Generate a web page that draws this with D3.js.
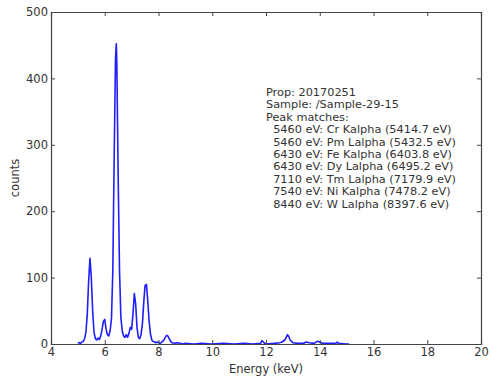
<!DOCTYPE html>
<html>
<head>
<meta charset="utf-8">
<script src="https://cdn.jsdelivr.net/npm/d3@7"></script>
<style>
  body { margin: 0; background: #fff; }
  text { font-family: "DejaVu Sans", sans-serif; fill: #333; }
</style>
</head>
<body>
<div id="chart"></div>
<script>
// spectrum (keV, counts)
var energy = [5.00,5.05,5.10,5.15,5.20,5.25,5.30,5.35,5.40,5.45,5.50,5.55,5.60,5.65,5.70,5.75,5.80,5.85,5.90,5.95,
  6.00,6.05,6.10,6.15,6.20,6.25,6.30,6.35,6.40,6.43,6.45,6.50,6.55,6.60,6.65,6.70,6.75,6.80,6.85,6.90,6.95,
  7.00,7.05,7.10,7.15,7.20,7.25,7.30,7.35,7.40,7.45,7.50,7.55,7.60,7.65,7.70,7.75,7.80,7.85,7.90,7.95,
  8.00,8.05,8.10,8.15,8.20,8.25,8.30,8.35,8.40,8.45,8.50,8.60,8.70,8.80,8.90,9.00,9.30,9.60,10.0,10.4,10.8,11.2,11.5,
  11.8,11.85,11.9,11.95,12.0,12.3,12.5,12.6,12.7,12.8,12.85,12.9,13.0,13.2,13.4,13.5,13.6,13.8,13.9,14.0,14.1,14.4,14.6,14.65,14.7,15.0,15.1];
var counts = [1,2,1,3,4,8,18,45,95,129,100,50,18,8,6,9,7,12,22,34,
  37,22,14,12,20,38,110,280,430,452,420,250,110,40,20,12,10,14,10,16,25,
  22,45,76,60,25,10,8,14,30,62,88,90,65,35,15,6,4,3,2,3,
  2,1,2,4,6,10,13,12,8,4,2,1,2,1,0,1,0,1,0,1,0,1,0,
  1,5,3,1,0,1,2,3,6,14,11,6,2,1,1,3,2,1,4,3,1,1,1,3,1,0,0];

var xTicks = [4,6,8,10,12,14,16,18,20];
var yTicks = [0,100,200,300,400,500];

var infoLines = [
  "Prop: 20170251",
  "Sample: /Sample-29-15",
  "Peak matches:",
  "  5460 eV: Cr Kalpha (5414.7 eV)",
  "  5460 eV: Pm Lalpha (5432.5 eV)",
  "  6430 eV: Fe Kalpha (6403.8 eV)",
  "  6430 eV: Dy Lalpha (6495.2 eV)",
  "  7110 eV: Tm Lalpha (7179.9 eV)",
  "  7540 eV: Ni Kalpha (7478.2 eV)",
  "  8440 eV: W Lalpha (8397.6 eV)"
];

var wdth = 490, hght = 379;
var margin = {top: 12, right: 9, bottom: 35, left: 51},
    width = wdth - margin.left - margin.right,
    height = hght - margin.top - margin.bottom;

var svg = d3.select("#chart")
  .append("svg")
    .attr("width", wdth)
    .attr("height", hght)
  .append("g")
    .attr("transform", "translate(" + margin.left + "," + margin.top + ")");

var x = d3.scaleLinear().domain([4, 20]).range([0, width]);
var y = d3.scaleLinear().domain([0, 500]).range([height, 0]);

var data = energy.map(function(e, i){ return {e: e, c: counts[i]} });

svg.append("path")
  .datum(data)
  .attr("fill", "none")
  .attr("stroke", "#1f1fff")
  .attr("stroke-width", 1.6)
  .attr("stroke-linejoin", "round")
  .attr("d", d3.line()
    .x(function(d) { return x(d.e) })
    .y(function(d) { return y(d.c) })
  );

// axes with inward ticks on all four sides
var axB = svg.append("g")
  .attr("transform", "translate(0," + height + ")")
  .call(d3.axisBottom(x).tickValues(xTicks).tickSize(-4).tickPadding(4).tickFormat(d3.format("d")));
var axT = svg.append("g")
  .call(d3.axisTop(x).tickValues(xTicks).tickSize(-4).tickFormat(""));
var axL = svg.append("g")
  .call(d3.axisLeft(y).tickValues(yTicks).tickSize(-4).tickPadding(3).tickFormat(d3.format("d")));
var axR = svg.append("g")
  .attr("transform", "translate(" + width + ",0)")
  .call(d3.axisRight(y).tickValues(yTicks).tickSize(-4).tickFormat(""));

[axB, axT, axL, axR].forEach(function(a){
  a.select(".domain").attr("stroke", "#444").attr("stroke-width", 1.2);
  a.selectAll(".tick line").attr("stroke", "#444");
  a.selectAll(".tick text").style("font-size", "11.5px").attr("fill", "#333");
});

svg.append("text")
  .attr("x", width / 2)
  .attr("y", height + 29)
  .attr("text-anchor", "middle")
  .style("font-size", "11.5px")
  .text("Energy (keV)");

svg.append("text")
  .attr("transform", "translate(" + (-32) + "," + (height / 2) + ") rotate(-90)")
  .attr("text-anchor", "middle")
  .style("font-size", "11.5px")
  .text("counts");

var info = svg.append("text")
  .attr("x", 215)
  .attr("y", 84)
  .style("font-size", "11.3px")
  .style("white-space", "pre");

info.selectAll("tspan")
  .data(infoLines)
  .enter()
  .append("tspan")
    .attr("x", 215)
    .attr("dy", function(d, i){ return i == 0 ? 0 : 12.4 })
    .attr("xml:space", "preserve")
    .text(function(d){ return d });
</script>
</body>
</html>
